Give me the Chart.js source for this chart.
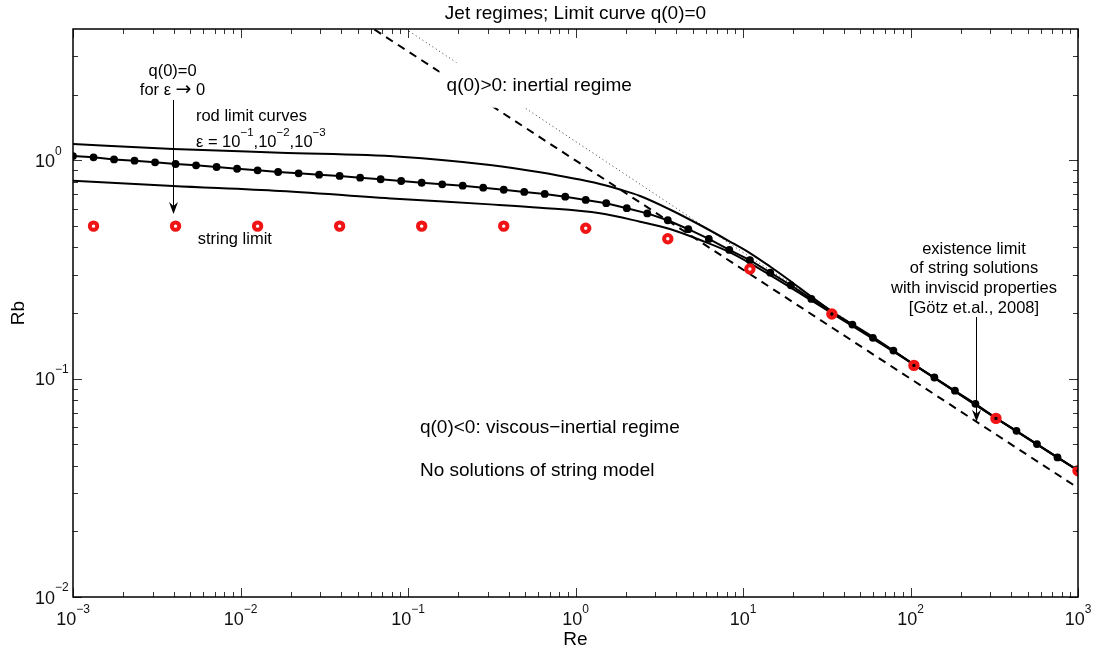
<!DOCTYPE html>
<html>
<head>
<meta charset="utf-8">
<script src="https://cdn.jsdelivr.net/npm/chart.js@4.4.0/dist/chart.umd.min.js"></script>
<style>
  html, body { margin: 0; padding: 0; background: #fff; }
</style>
</head>
<body>
<canvas id="jetChart" width="1100" height="651"></canvas>
<script>
// rod limit curve eps = 1e-2 (the one with dots)
const reGrid = [0.001, 0.001326, 0.001758, 0.00233, 0.003089, 0.004095, 0.005429, 0.007197, 0.009541, 0.01265,
  0.01677, 0.02223, 0.02947, 0.03907, 0.05179, 0.06866, 0.09103, 0.1207, 0.16, 0.2121,
  0.2812, 0.3728, 0.4942, 0.6551, 0.8685, 1.151, 1.526, 2.024, 2.683, 3.556,
  4.715, 6.251, 8.286, 10.99, 14.56, 19.31, 25.6, 33.93, 44.98, 59.64,
  79.06, 104.8, 138.9, 184.2, 244.2, 323.7, 429.2, 569.0, 754.3, 1000];
const rodMidRb = [1.047, 1.033, 1.011, 0.997, 0.98, 0.963, 0.95, 0.933, 0.916, 0.901,
  0.885, 0.873, 0.86, 0.849, 0.834, 0.82, 0.805, 0.79, 0.777, 0.766,
  0.75, 0.734, 0.717, 0.702, 0.682, 0.659, 0.637, 0.604, 0.572, 0.532,
  0.484, 0.437, 0.389, 0.349, 0.306, 0.268, 0.232, 0.2, 0.177, 0.154,
  0.1345, 0.1161, 0.1013, 0.0881, 0.0767, 0.066, 0.0577, 0.0502, 0.0436, 0.038];

// rod limit curves eps = 1e-1 (upper) and 1e-3 (lower)
const rodUpperRe = [0.001, 0.00396, 0.01722, 0.0895, 0.309, 0.614, 1.40, 1.844, 2.43, 3.66, 5.54, 8.25, 11.0, 14.5, 19.35, 25.5, 34.0, 59.7, 104.8, 323.7, 1000];
const rodUpperRb = [1.189, 1.128, 1.085, 1.04, 0.953, 0.882, 0.78, 0.736, 0.687, 0.596, 0.506, 0.4273, 0.3765, 0.3266, 0.2788, 0.2379, 0.2031, 0.1552, 0.1161, 0.066, 0.038];
const rodLowerRe = [0.001, 0.00396, 0.01722, 0.0895, 0.309, 0.614, 1.40, 2.43, 3.66, 5.54, 8.36, 14.5, 34.0, 104.8, 323.7, 1000];
const rodLowerRb = [0.807, 0.763, 0.724, 0.666, 0.629, 0.607, 0.573, 0.524, 0.485, 0.432, 0.379, 0.2985, 0.1993, 0.1161, 0.066, 0.038];

// string limit (red circles)
const stringRe = [0.001326, 0.004095, 0.01265, 0.03907, 0.1207, 0.3728, 1.151, 3.556, 10.99, 33.93, 104.8, 323.7, 1000];
const stringRb = [0.5, 0.5, 0.5, 0.5, 0.5, 0.5, 0.489, 0.438, 0.318, 0.198, 0.1151, 0.0658, 0.0379];

// dashed and dotted straight lines
const dashRe = [0.063, 1, 1000];
const dashRb = [3.98, 1.0, 0.0316];
const dotRe = [0.097, 11.07, 1000];
const dotRb = [4.0, 0.36, 0.0378];

const xTickExps = [-3, -2, -1, 0, 1, 2, 3];
const yTickExps = [-2, -1, 0];
const minorMults = [2, 3, 4, 5, 6, 7, 8, 9];

const FONT = '"Liberation Sans", Arial, sans-serif';
const ARROW_FONT = '"DejaVu Sans", sans-serif';

const zip = (xs, ys) => xs.map((x, i) => ({ x: x, y: ys[i] }));

// texts placed in data coordinates
const notes = [
  { x: 0.00393, y: 2.436, align: 'center', size: 16.5, parts: [['q(0)=0', 0]] },
  { x: 0.00393, y: 1.993, align: 'center', size: 16.5, parts: [['for ε ', 0], ['→', 0, ARROW_FONT], [' 0', 0]] },
  { x: 0.00542, y: 1.52, align: 'left', size: 16.5, parts: [['rod limit curves', 0]] },
  { x: 0.00542, y: 1.152, align: 'left', size: 16.5, parts: [['ε = 10', 0], ['−1', 1], [',10', 0], ['−2', 1], [',10', 0], ['−3', 1]] },
  { x: 0.00555, y: 0.414, align: 'left', size: 16.5, parts: [['string limit', 0]] },
  { x: 0.170, y: 2.086, align: 'left', size: 19, box: true, parts: [['q(0)>0: inertial regime', 0]] },
  { x: 239.3, y: 0.3715, align: 'center', size: 16.5, parts: [['existence limit', 0]] },
  { x: 239.3, y: 0.3041, align: 'center', size: 16.5, parts: [['of string solutions', 0]] },
  { x: 239.3, y: 0.2477, align: 'center', size: 16.5, parts: [['with inviscid properties', 0]] },
  { x: 239.3, y: 0.1993, align: 'center', size: 16.5, parts: [['[Götz et.al., 2008]', 0]] },
  { x: 0.1179, y: 0.0564, align: 'left', size: 19, parts: [['q(0)<0: viscous−inertial regime', 0]] },
  { x: 0.1179, y: 0.0358, align: 'left', size: 19, parts: [['No solutions of string model', 0]] }
];
const arrows = [
  { x: 0.00398, y1: 1.891, y2: 0.568 },
  { x: 246, y1: 0.1917, y2: 0.0635 }
];

function partFont(p, size, supSize) {
  const s = p[1] ? supSize : (p[2] ? size * 1.15 : size);
  return s + 'px ' + (p[2] || FONT);
}

function drawParts(ctx, parts, x, y, align, size, supSize, box) {
  const widths = parts.map(p => {
    ctx.font = partFont(p, size, supSize);
    return ctx.measureText(p[0]).width;
  });
  const total = widths.reduce((a, b) => a + b, 0);
  let cx = align === 'center' ? x - total / 2 : (align === 'right' ? x - total : x);
  if (box) {
    ctx.save();
    ctx.fillStyle = '#fff';
    ctx.fillRect(cx - 7, y - 28, total + 14, 45);
    ctx.restore();
  }
  ctx.textAlign = 'left';
  ctx.textBaseline = 'alphabetic';
  parts.forEach((p, i) => {
    ctx.font = partFont(p, size, supSize);
    ctx.fillText(p[0], cx, p[1] ? y - size * 0.68 : y);
    cx += widths[i];
  });
}

const expText = e => (e < 0 ? '−' + (-e) : String(e));

const matlabAxes = {
  id: 'matlabAxes',
  afterDatasetsDraw(chart) {
    const ctx = chart.ctx;
    const a = chart.chartArea;
    const xs = chart.scales.x, ys = chart.scales.y;
    ctx.save();
    ctx.fillStyle = '#000';

    // annotations (the boxed one hides the lines behind it)
    notes.forEach(n => {
      drawParts(ctx, n.parts, xs.getPixelForValue(n.x), ys.getPixelForValue(n.y), n.align, n.size, 11.5, n.box);
    });
    arrows.forEach(ar => {
      const px = Math.round(xs.getPixelForValue(ar.x)) + 0.5;
      const y1 = ys.getPixelForValue(ar.y1), y2 = ys.getPixelForValue(ar.y2);
      ctx.strokeStyle = '#000';
      ctx.lineWidth = 1;
      ctx.beginPath();
      ctx.moveTo(px, y1); ctx.lineTo(px, y2 - 6);
      ctx.stroke();
      ctx.beginPath();
      ctx.moveTo(px, y2);
      ctx.lineTo(px - 4.5, y2 - 12);
      ctx.lineTo(px, y2 - 8);
      ctx.lineTo(px + 4.5, y2 - 12);
      ctx.closePath();
      ctx.fill();
    });

    // ticks (inside, all four sides)
    ctx.lineWidth = 1;
    ctx.strokeStyle = '#333';
    ctx.beginPath();
    xTickExps.forEach(e => {
      const base = Math.pow(10, e);
      const px = Math.round(xs.getPixelForValue(base)) + 0.5;
      ctx.moveTo(px, a.bottom); ctx.lineTo(px, a.bottom - 9);
      ctx.moveTo(px, a.top); ctx.lineTo(px, a.top + 9);
      if (e < 3) {
        minorMults.forEach(m => {
          const mx = Math.round(xs.getPixelForValue(m * base)) + 0.5;
          ctx.moveTo(mx, a.bottom); ctx.lineTo(mx, a.bottom - 5);
          ctx.moveTo(mx, a.top); ctx.lineTo(mx, a.top + 5);
        });
      }
    });
    yTickExps.forEach(e => {
      const base = Math.pow(10, e);
      const py = Math.round(ys.getPixelForValue(base)) + 0.5;
      ctx.moveTo(a.left, py); ctx.lineTo(a.left + 9, py);
      ctx.moveTo(a.right, py); ctx.lineTo(a.right - 9, py);
      minorMults.forEach(m => {
        const v = m * base;
        if (v >= ys.max) return;
        const my = Math.round(ys.getPixelForValue(v)) + 0.5;
        ctx.moveTo(a.left, my); ctx.lineTo(a.left + 5, my);
        ctx.moveTo(a.right, my); ctx.lineTo(a.right - 5, my);
      });
    });
    ctx.stroke();

    // axes box
    ctx.strokeStyle = '#000';
    ctx.lineWidth = 1.5;
    ctx.strokeRect(a.left, a.top, a.right - a.left, a.bottom - a.top);

    // tick labels
    ctx.fillStyle = '#111';
    xTickExps.forEach(e => {
      const px = xs.getPixelForValue(Math.pow(10, e));
      drawParts(ctx, [['10', 0], [expText(e), 1]], px, a.bottom + 28, 'center', 18, 12);
    });
    yTickExps.forEach(e => {
      const py = ys.getPixelForValue(Math.pow(10, e));
      drawParts(ctx, [['10', 0], [expText(e), 1]], a.left - 38, py + 6.6, 'left', 18, 12);
    });

    // title and axis labels
    ctx.fillStyle = '#000';
    const cx = (a.left + a.right) / 2;
    drawParts(ctx, [['Jet regimes; Limit curve q(0)=0', 0]], cx, 18.5, 'center', 19, 12);
    drawParts(ctx, [['Re', 0]], cx, 645, 'center', 19, 12);
    ctx.save();
    ctx.translate(24, (a.top + a.bottom) / 2);
    ctx.rotate(-Math.PI / 2);
    drawParts(ctx, [['Rb', 0]], 0, 0, 'center', 19, 12);
    ctx.restore();
    ctx.restore();
  }
};

new Chart(document.getElementById('jetChart'), {
  type: 'line',
  data: {
    datasets: [
      {
        label: 'string limit',
        data: zip(stringRe, stringRb),
        showLine: false,
        pointStyle: 'circle',
        pointRadius: 3.7,
        pointBorderWidth: 4,
        pointBorderColor: 'rgb(240, 20, 20)',
        pointBackgroundColor: 'rgba(0,0,0,0)',
        order: 1
      },
      {
        label: 'rod eps 1e-2',
        data: zip(reGrid, rodMidRb),
        borderColor: '#000',
        borderWidth: 2,
        pointRadius: 3.9,
        pointBorderWidth: 0,
        pointBackgroundColor: '#000',
        tension: 0,
        order: 2
      },
      {
        label: 'rod eps 1e-1',
        data: zip(rodUpperRe, rodUpperRb),
        borderColor: '#000',
        borderWidth: 2,
        pointRadius: 0,
        cubicInterpolationMode: 'monotone',
        order: 3
      },
      {
        label: 'rod eps 1e-3',
        data: zip(rodLowerRe, rodLowerRb),
        borderColor: '#000',
        borderWidth: 2,
        pointRadius: 0,
        cubicInterpolationMode: 'monotone',
        order: 4
      },
      {
        label: 'dashed',
        data: zip(dashRe, dashRb),
        borderColor: '#000',
        borderWidth: 2,
        borderDash: [8, 6],
        pointRadius: 0,
        order: 5
      },
      {
        label: 'dotted',
        data: zip(dotRe, dotRb),
        borderColor: '#333',
        borderWidth: 1,
        borderDash: [1, 3],
        pointRadius: 0,
        order: 6
      }
    ]
  },
  options: {
    responsive: false,
    animation: false,
    layout: { padding: { left: 73, right: 22, top: 29, bottom: 54 } },
    scales: {
      x: { type: 'logarithmic', min: 0.001, max: 1000, display: false },
      y: { type: 'logarithmic', min: 0.01, max: 4, display: false }
    },
    plugins: {
      legend: { display: false },
      tooltip: { enabled: false }
    }
  },
  plugins: [matlabAxes]
});
</script>
</body>
</html>
